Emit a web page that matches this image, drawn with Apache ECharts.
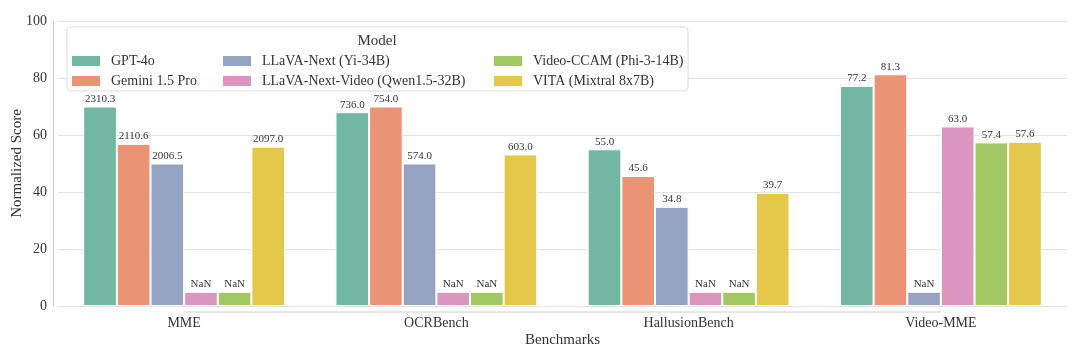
<!DOCTYPE html>
<html>
<head>
<meta charset="utf-8">
<script src="https://cdn.jsdelivr.net/npm/echarts@6/dist/echarts.min.js"></script>
<style>
  html, body { margin: 0; padding: 0; background: #fff; }
  #chart { width: 1080px; height: 354px; }
</style>
</head>
<body>
<div id="chart"></div>
<script>
var categories = ['MME', 'OCRBench', 'HallusionBench', 'Video-MME'];
var models = ['GPT-4o', 'Gemini 1.5 Pro', 'LLaVA-Next (Yi-34B)', 'LLaVA-Next-Video (Qwen1.5-32B)', 'Video-CCAM (Phi-3-14B)', 'VITA (Mixtral 8x7B)'];
var colors = ['#72b7a1', '#e99575', '#95a3c3', '#db96c0', '#a2c864', '#e5c849'];

// bar heights (normalized score)
var gpt4o = [70, 68, 55, 77.2];
var gemini = [56.9, 70, 45.6, 81.3];
var llavaNext = [50, 50, 34.8, 5];
var llavaNextVideo = [5, 5, 5, 63.0];
var videoCcam = [5, 5, 5, 57.4];
var vita = [55.9, 53.2, 39.7, 57.6];

// raw scores shown above the bars (null -> NaN)
var gpt4oRaw = [2310.3, 736.0, 55.0, 77.2];
var geminiRaw = [2110.6, 754.0, 45.6, 81.3];
var llavaNextRaw = [2006.5, 574.0, 34.8, null];
var llavaNextVideoRaw = [null, null, null, 63.0];
var videoCcamRaw = [null, null, null, 57.4];
var vitaRaw = [2097.0, 603.0, 39.7, 57.6];

var yTicks = [0, 20, 40, 60, 80, 100];

var heights = [gpt4o, gemini, llavaNext, llavaNextVideo, videoCcam, vita];
var raws = [gpt4oRaw, geminiRaw, llavaNextRaw, llavaNextVideoRaw, videoCcamRaw, vitaRaw];

var font = 'Liberation Serif, Times New Roman, serif';
var ink = '#333333';

var chart = echarts.init(document.getElementById('chart'), null, { renderer: 'canvas' });

var series = models.map(function (name, i) {
  return {
    name: name,
    type: 'bar',
    barGap: '0%',
    barCategoryGap: '20%',
    data: heights[i].map(function (v, j) { return { value: v, raw: raws[i][j] }; }),
    itemStyle: { color: colors[i], borderColor: '#ffffff', borderWidth: 1 },
    label: {
      show: true,
      position: 'top',
      distance: 2,
      color: ink,
      fontFamily: font,
      fontSize: 11,
      formatter: function (p) {
        return p.data.raw == null ? 'NaN' : p.data.raw.toFixed(1);
      }
    }
  };
});

function legendCol(names, left) {
  return {
    data: names,
    orient: 'vertical',
    left: left,
    top: 54,
    padding: 0,
    itemWidth: 28,
    itemHeight: 10,
    itemGap: 6,
    icon: 'rect',
    itemStyle: { borderWidth: 0 },
    textStyle: { color: ink, fontFamily: font, fontSize: 14, lineHeight: 14, padding: [0, 0, 0, 6] }
  };
}

var boxAndTitle = [
  {
    type: 'rect', z: 3,
    shape: { x: 67, y: 27, width: 621, height: 64, r: 4 },
    style: { fill: 'rgba(255,255,255,0.85)', stroke: '#dcdcdc', lineWidth: 1 }
  },
  {
    type: 'text', z: 5, x: 377, y: 41,
    style: { text: 'Model', fill: ink, font: '15px ' + font, align: 'center', verticalAlign: 'middle' }
  }
];

chart.setOption({
  animation: false,
  color: colors,
  grid: { left: 58, right: 13, top: 21, bottom: 48, outerBoundsMode: 'none' },
  legend: [
    legendCol([models[0], models[1]], 72),
    legendCol([models[2], models[3]], 223),
    legendCol([models[4], models[5]], 494)
  ],
  xAxis: {
    type: 'category',
    data: categories,
    name: 'Benchmarks',
    nameLocation: 'middle',
    nameGap: 27,
    nameMoveOverlap: false,
    nameTextStyle: { color: ink, fontFamily: font, fontSize: 15 },
    axisLine: { show: false },
    axisTick: { show: false },
    axisLabel: { color: ink, fontFamily: font, fontSize: 14, margin: 10 }
  },
  yAxis: {
    type: 'value',
    min: yTicks[0],
    max: yTicks[yTicks.length - 1],
    interval: 20,
    offset: 5,
    name: 'Normalized Score',
    nameLocation: 'middle',
    nameGap: 28,
    nameMoveOverlap: false,
    nameTextStyle: { color: ink, fontFamily: font, fontSize: 15 },
    axisLine: { show: true, lineStyle: { color: '#cfcfcf', width: 1 } },
    axisTick: { show: false },
    axisLabel: { color: ink, fontFamily: font, fontSize: 14, margin: 6 },
    splitLine: { lineStyle: { color: '#e3e3e3', width: 1 } }
  },
  graphic: boxAndTitle,
  series: series
});

// trimmed bottom spine, from first to last category tick, offset below the plot
var x0 = chart.convertToPixel({ xAxisIndex: 0 }, categories[0]);
var x1 = chart.convertToPixel({ xAxisIndex: 0 }, categories[categories.length - 1]);
var yBase = chart.convertToPixel({ yAxisIndex: 0 }, 0) + 6;
chart.setOption({
  graphic: boxAndTitle.concat([{
    type: 'line', z: 3,
    shape: { x1: x0, y1: yBase, x2: x1, y2: yBase },
    style: { stroke: '#cfcfcf', lineWidth: 1 }
  }])
});
</script>
</body>
</html>
